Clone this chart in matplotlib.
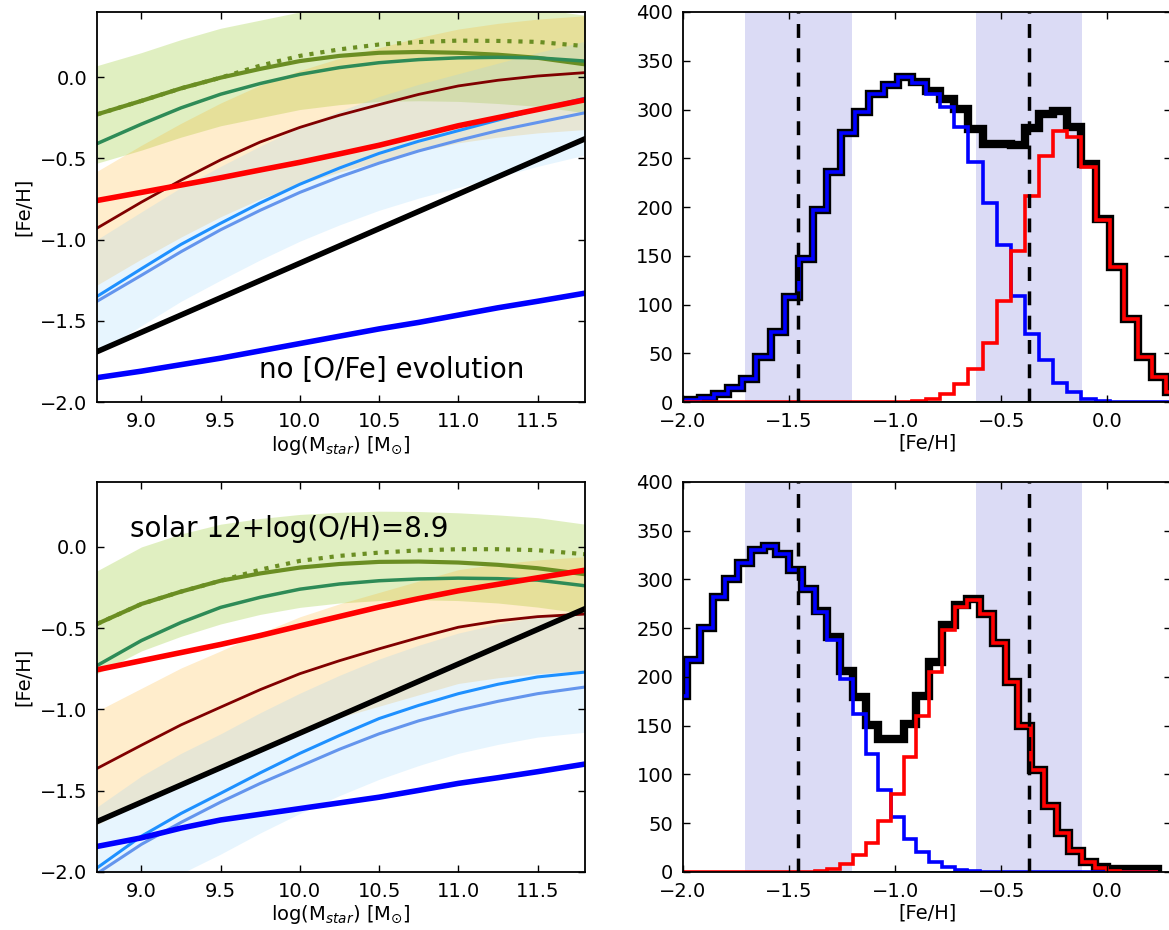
import numpy as np
import matplotlib.pyplot as plt

plt.rcParams['font.family'] = 'DejaVu Sans'
plt.rcParams['mathtext.fontset'] = 'dejavusans'

# ---- left panels: [Fe/H] vs stellar mass ----
mass = [8.72, 9.0, 9.25, 9.5, 9.75, 10.0, 10.25, 10.5, 10.75, 11.0, 11.25, 11.5, 11.8]
mass_line = [8.72, 11.8]

# top: no [O/Fe] evolution
top_black = [-1.69, -0.38]
top_blue = [-1.85, -1.81, -1.77, -1.73, -1.685, -1.64, -1.595, -1.55, -1.51, -1.465, -1.42, -1.38, -1.33]
top_red = [-0.76, -0.71, -0.665, -0.62, -0.572, -0.525, -0.473, -0.42, -0.36, -0.30, -0.25, -0.20, -0.14]
top_maroon = [-0.93, -0.77, -0.635, -0.51, -0.40, -0.31, -0.235, -0.17, -0.107, -0.055, -0.02, 0.006, 0.027]
top_dodger = [-1.35, -1.18, -1.03, -0.90, -0.775, -0.66, -0.56, -0.47, -0.395, -0.33, -0.265, -0.20, -0.13]
top_cornflower = [-1.38, -1.22, -1.075, -0.94, -0.82, -0.71, -0.615, -0.53, -0.455, -0.39, -0.33, -0.28, -0.22]
top_olive = [-0.23, -0.147, -0.07, -0.004, 0.05, 0.098, 0.13, 0.149, 0.154, 0.149, 0.137, 0.118, 0.078]
top_olive_dot = [-0.23, -0.147, -0.07, -0.004, 0.07, 0.13, 0.17, 0.20, 0.215, 0.224, 0.222, 0.216, 0.19]
top_green = [-0.41, -0.29, -0.19, -0.106, -0.04, 0.016, 0.058, 0.088, 0.107, 0.118, 0.121, 0.118, 0.098]
top_green_band = ([-0.53, -0.45, -0.37, -0.30, -0.25, -0.20, -0.17, -0.15, -0.146, -0.15, -0.163, -0.18, -0.22],
                  [0.07, 0.15, 0.23, 0.30, 0.35, 0.40, 0.43, 0.45, 0.455, 0.45, 0.437, 0.42, 0.38])
top_orange_band = ([-1.28, -1.12, -0.985, -0.86, -0.75, -0.66, -0.585, -0.52, -0.457, -0.405, -0.37, -0.344, -0.323],
                   [-0.58, -0.42, -0.285, -0.16, -0.05, 0.04, 0.115, 0.18, 0.243, 0.295, 0.33, 0.356, 0.377])
top_blue_band = ([-1.70, -1.53, -1.38, -1.25, -1.125, -1.01, -0.91, -0.82, -0.745, -0.68, -0.615, -0.55, -0.48],
                 [-1.00, -0.83, -0.68, -0.55, -0.425, -0.31, -0.21, -0.12, -0.045, 0.02, 0.085, 0.15, 0.22])

# bottom: solar 12+log(O/H)=8.9
bot_black = [-1.69, -0.38]
bot_blue = [-1.843, -1.79, -1.73, -1.68, -1.645, -1.61, -1.575, -1.54, -1.498, -1.455, -1.42, -1.383, -1.336]
bot_red = [-0.756, -0.70, -0.65, -0.60, -0.545, -0.486, -0.428, -0.37, -0.318, -0.27, -0.23, -0.19, -0.143]
bot_maroon = [-1.363, -1.22, -1.095, -0.986, -0.878, -0.78, -0.70, -0.627, -0.558, -0.494, -0.455, -0.429, -0.413]
bot_dodger = [-1.975, -1.78, -1.64, -1.516, -1.39, -1.27, -1.16, -1.056, -0.975, -0.903, -0.845, -0.80, -0.77]
bot_cornflower = [-2.01, -1.83, -1.695, -1.57, -1.455, -1.35, -1.245, -1.15, -1.07, -1.005, -0.95, -0.903, -0.862]
bot_olive = [-0.474, -0.351, -0.275, -0.208, -0.163, -0.127, -0.105, -0.092, -0.09, -0.096, -0.11, -0.131, -0.168]
bot_olive_dot = [-0.474, -0.351, -0.275, -0.208, -0.14, -0.086, -0.055, -0.035, -0.021, -0.014, -0.014, -0.02, -0.045]
bot_green = [-0.73, -0.576, -0.465, -0.372, -0.31, -0.26, -0.228, -0.208, -0.197, -0.192, -0.195, -0.204, -0.239]
bot_green_band = ([-0.78, -0.64, -0.55, -0.474, -0.415, -0.372, -0.345, -0.33, -0.325, -0.33, -0.345, -0.37, -0.41],
                  [-0.147, 0.0, 0.08, 0.14, 0.175, 0.20, 0.213, 0.22, 0.218, 0.21, 0.197, 0.18, 0.14])
bot_orange_band = ([-1.71, -1.57, -1.445, -1.34, -1.23, -1.13, -1.05, -0.98, -0.91, -0.84, -0.805, -0.78, -0.76],
                   [-1.01, -0.87, -0.745, -0.64, -0.53, -0.43, -0.35, -0.28, -0.21, -0.14, -0.105, -0.08, -0.06])
bot_blue_band = ([-2.35, -2.15, -2.01, -1.89, -1.76, -1.64, -1.53, -1.43, -1.345, -1.27, -1.215, -1.17, -1.14],
                 [-1.60, -1.41, -1.27, -1.15, -1.02, -0.90, -0.79, -0.69, -0.605, -0.53, -0.475, -0.43, -0.40])

# ---- right panels: [Fe/H] histograms ----
top_edges = np.arange(37) * 0.0666 - 2.054
top_hist_blue = [1, 2, 4, 8, 14, 24, 46, 72, 108, 147, 197, 236, 276, 297, 316, 325,
                 333, 327, 316, 303, 282, 246, 204, 161, 109, 70, 43, 20, 10, 3, 1, 0,
                 0, 0, 0, 0]
top_hist_red = [0] * 17 + [1, 3, 8, 19, 34, 61, 104, 155, 211, 252, 278, 272, 241, 187,
                           138, 85, 46, 26, 10]
top_hist_all = [1, 2, 4, 8, 14, 24, 46, 72, 108, 147, 197, 236, 276, 297, 316, 325, 333,
                328, 319, 311, 301, 280, 265, 265, 264, 281, 295, 298, 282, 244, 188,
                138, 85, 46, 26, 10]

bot_edges = np.arange(39) * 0.06 - 2.04
bot_hist_all = [180, 217, 250, 282, 300, 317, 330, 334, 326, 310, 290, 268, 241, 206,
                179, 151, 136, 136, 152, 180, 215, 253, 274, 280, 265, 235, 195, 150,
                105, 68, 40, 22, 10, 5, 3, 3, 3, 3]
bot_hist_blue = [180, 217, 250, 282, 300, 317, 330, 334, 326, 310, 290, 267, 238, 198,
                 162, 121, 84, 56, 34, 20, 10, 5, 2, 1] + [0] * 14
bot_hist_red = [0] * 11 + [1, 3, 8, 17, 30, 52, 80, 118, 160, 205, 248, 272, 279, 265,
                           235, 195, 150, 105, 68, 40, 22, 10, 4, 1, 0, 0, 0]

feh_means = [-1.456, -0.368]
half_width = 0.25

fig = plt.figure(figsize=(11.69, 9.30), dpi=100)
ax_tl = fig.add_axes([0.083, 0.5677, 0.4175, 0.4194])
ax_tr = fig.add_axes([0.5843, 0.5677, 0.4175, 0.4194])
ax_bl = fig.add_axes([0.083, 0.0624, 0.4175, 0.4194])
ax_br = fig.add_axes([0.5843, 0.0624, 0.4175, 0.4194])


def style(ax):
    ax.tick_params(direction='in', top=True, right=True, length=5, width=1,
                   labelsize=14, pad=7)
    for s in ax.spines.values():
        s.set_linewidth(1.3)


def left_panel(ax, d, text, tx, ty):
    ax.fill_between(mass, *d['gband'], color='yellowgreen', alpha=0.3, lw=0)
    ax.fill_between(mass, *d['oband'], color='orange', alpha=0.2, lw=0)
    ax.fill_between(mass, *d['bband'], color='lightskyblue', alpha=0.2, lw=0)
    ax.plot(mass, d['olive_dot'], color='olivedrab', lw=3, ls=':')
    ax.plot(mass, d['olive'], color='olivedrab', lw=3)
    ax.plot(mass, d['green'], color='seagreen', lw=2.5)
    ax.plot(mass, d['maroon'], color='#800000', lw=2)
    ax.plot(mass, d['dodger'], color='dodgerblue', lw=2.2)
    ax.plot(mass, d['cornflower'], color='cornflowerblue', lw=2.2)
    ax.plot(mass, d['red'], color='red', lw=4)
    ax.plot(mass_line, d['black'], color='black', lw=4)
    ax.plot(mass, d['blue'], color='blue', lw=4)
    ax.text(tx, ty, text, fontsize=20, va='center')
    ax.set_xlim(8.72, 11.8)
    ax.set_ylim(-2.0, 0.4)
    ax.set_xticks([9.0, 9.5, 10.0, 10.5, 11.0, 11.5])
    ax.set_yticks([-2.0, -1.5, -1.0, -0.5, 0.0])
    ax.set_xlabel(r'log(M$_{star}$) [M$_{\odot}$]', fontsize=14, labelpad=2)
    ax.set_ylabel('[Fe/H]', fontsize=14, labelpad=5)
    style(ax)


def right_panel(ax, edges, h_all, h_blue, h_red):
    for m in feh_means:
        ax.axvspan(m - half_width, m + half_width, color=(0.86, 0.86, 0.96), lw=0)
        ax.axvline(m, color='black', ls='--', lw=2.5, dashes=(4, 3))
    ax.stairs(np.zeros(len(h_all)), edges, color='seagreen', lw=2)
    ax.stairs(h_all, edges, color='black', lw=6)
    ax.stairs(h_blue, edges, color='blue', lw=2.6)
    ax.stairs(h_red, edges, color='red', lw=2.6)
    ax.set_xlim(-2.0, 0.3)
    ax.set_ylim(0, 400)
    ax.set_xticks([-2.0, -1.5, -1.0, -0.5, 0.0])
    ax.set_yticks(range(0, 401, 50))
    ax.set_xlabel('[Fe/H]', fontsize=14, labelpad=2)
    style(ax)


left_panel(ax_tl, dict(black=top_black, blue=top_blue, red=top_red, maroon=top_maroon,
                       dodger=top_dodger, cornflower=top_cornflower, olive=top_olive,
                       olive_dot=top_olive_dot, green=top_green, gband=top_green_band,
                       oband=top_orange_band, bband=top_blue_band),
           'no [O/Fe] evolution', 9.74, -1.8)
left_panel(ax_bl, dict(black=bot_black, blue=bot_blue, red=bot_red, maroon=bot_maroon,
                       dodger=bot_dodger, cornflower=bot_cornflower, olive=bot_olive,
                       olive_dot=bot_olive_dot, green=bot_green, gband=bot_green_band,
                       oband=bot_orange_band, bband=bot_blue_band),
           'solar 12+log(O/H)=8.9', 8.93, 0.11)
right_panel(ax_tr, top_edges, top_hist_all, top_hist_blue, top_hist_red)
right_panel(ax_br, bot_edges, bot_hist_all, bot_hist_blue, bot_hist_red)

fig.savefig('out.png', dpi=100)
